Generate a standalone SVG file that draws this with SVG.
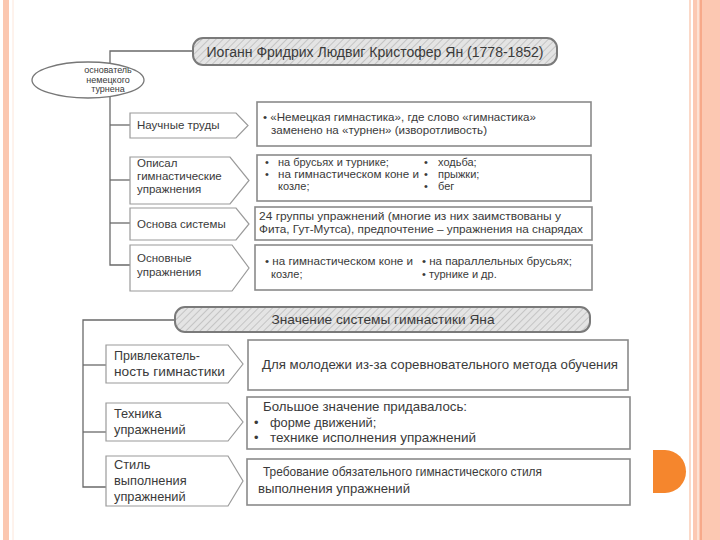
<svg xmlns="http://www.w3.org/2000/svg" width="720" height="540" viewBox="0 0 720 540">
<defs>
<pattern id="hatch" patternUnits="userSpaceOnUse" width="5" height="5" patternTransform="rotate(45)">
<rect width="5" height="5" fill="#e4e4e4"/>
<line x1="0" y1="0" x2="0" y2="5" stroke="#c4c4c4" stroke-width="2"/>
</pattern>
</defs>
<style>
text{font-family:"Liberation Sans","Noto Sans",Arial,sans-serif;fill:#3a3a3a;}
.lbl{font-size:11.5px;}
.cnt{font-size:11px;}
.big{font-size:12.8px;}
.ttl{font-size:14px;}
.box{fill:#ffffff;stroke:#8a8a8a;stroke-width:1.6;}
.arr{fill:#ffffff;stroke:#9a9a9a;stroke-width:1.2;}
.hd{fill:url(#hatch);stroke:#7a7a7a;stroke-width:2;}
.con{fill:none;stroke:#6a6a6a;stroke-width:1.3;}
</style>
<rect width="720" height="540" fill="#ffffff"/>
<!-- page frame -->
<rect x="3" y="0" width="6" height="540" fill="#fbc7b0"/>
<line x1="13" y1="0" x2="13" y2="540" stroke="#fde6da" stroke-width="1"/>
<rect x="689" y="0" width="2" height="540" fill="#fbd9c8"/>
<rect x="693" y="0" width="27" height="540" fill="#fcc8b2"/>
<rect x="697" y="0" width="2" height="540" fill="#fde2d4"/>
<rect x="700" y="0" width="2" height="540" fill="#f7a98a"/>
<path d="M653,450 L665,450 A21,21.5 0 0 1 665,493 L653,493 Z" fill="#f5862d"/>

<g id="connectors">
<path class="con" d="M193,51 H110 V63"/>
<path class="con" d="M110,97 V265 H130"/>
<path class="con" d="M110,125 H130"/>
<path class="con" d="M110,180 H130"/>
<path class="con" d="M110,223 H130"/>
<path class="con" d="M175,320 H83 V487 H106"/>
<path class="con" d="M83,365 H106"/>
<path class="con" d="M83,432 H106"/>
</g>

<g id="title">
<rect class="hd" x="193" y="38" width="364" height="27" rx="10"/>
<text class="ttl" x="375" y="57" text-anchor="middle" textLength="337" lengthAdjust="spacingAndGlyphs">Иоганн Фридрих Людвиг Кристофер Ян (1778-1852)</text>
</g>

<g id="founder">
<ellipse cx="88" cy="80" rx="56" ry="18" fill="#ffffff" stroke="#777" stroke-width="1.3"/>
<text x="108" y="73" font-size="9" text-anchor="middle">основатель</text>
<text x="108" y="82.5" font-size="9" text-anchor="middle">немецкого</text>
<text x="108" y="92" font-size="9" text-anchor="middle">турнена</text>
</g>

<g id="works">
<path class="arr" d="M130,113 H236 L248,125.5 L236,138 H130 Z"/>
<text class="lbl" x="137" y="129">Научные труды</text>
</g>
<g id="works-content">
<rect class="box" x="257" y="102" width="334" height="44"/>
<text class="cnt" x="263" y="121" textLength="273" lengthAdjust="spacingAndGlyphs">• «Немецкая гимнастика», где слово «гимнастика»</text>
<text class="cnt" x="271" y="134" textLength="216" lengthAdjust="spacingAndGlyphs">заменено на «турнен» (изворотливость)</text>
</g>

<g id="described">
<path class="arr" d="M130,157 H230 L249,180.5 L230,204 H130 Z"/>
<text class="lbl" x="137" y="167">Описал</text>
<text class="lbl" x="137" y="180">гимнастические</text>
<text class="lbl" x="137" y="193">упражнения</text>
</g>
<g id="described-content">
<rect class="box" x="257" y="155" width="334" height="46"/>
<text class="cnt" x="265" y="166">•</text>
<text class="cnt" x="278" y="166">на брусьях и турнике;</text>
<text class="cnt" x="265" y="178">•</text>
<text class="cnt" x="278" y="178" textLength="141" lengthAdjust="spacingAndGlyphs">на гимнастическом коне и</text>
<text class="cnt" x="278" y="190">козле;</text>
<text class="cnt" x="424" y="166">•</text>
<text class="cnt" x="438" y="166">ходьба;</text>
<text class="cnt" x="424" y="178">•</text>
<text class="cnt" x="438" y="178">прыжки;</text>
<text class="cnt" x="424" y="190">•</text>
<text class="cnt" x="438" y="190">бег</text>
</g>

<g id="basis">
<path class="arr" d="M130,208 H236 L249,224 L236,240 H130 Z"/>
<text class="lbl" x="137" y="228">Основа системы</text>
</g>
<g id="basis-content">
<rect class="box" x="255" y="207" width="337" height="33"/>
<text class="cnt" x="259" y="220" textLength="302" lengthAdjust="spacingAndGlyphs">24 группы упражнений (многие из них заимствованы у</text>
<text class="cnt" x="259" y="233" textLength="324" lengthAdjust="spacingAndGlyphs">Фита, Гут-Мутса), предпочтение – упражнения на снарядах</text>
</g>

<g id="main-ex">
<path class="arr" d="M130,245 H232 L249,268 L232,291 H130 Z"/>
<text class="lbl" x="137" y="262">Основные</text>
<text class="lbl" x="137" y="276">упражнения</text>
</g>
<g id="main-ex-content">
<rect class="box" x="255" y="245" width="337" height="45"/>
<text class="cnt" x="265" y="265" textLength="148" lengthAdjust="spacingAndGlyphs">• на гимнастическом коне и</text>
<text class="cnt" x="271" y="278">козле;</text>
<text class="cnt" x="422" y="265" textLength="150" lengthAdjust="spacingAndGlyphs">• на параллельных брусьях;</text>
<text class="cnt" x="422" y="278">• турнике и др.</text>
</g>

<g id="meaning">
<rect class="hd" x="175" y="307" width="415" height="25" rx="10"/>
<text x="383" y="324" font-size="13" text-anchor="middle" textLength="223" lengthAdjust="spacingAndGlyphs">Значение системы гимнастики Яна</text>
</g>

<g id="attract">
<path class="arr" d="M106,345 H228 L243,364 L228,383 H106 Z"/>
<text x="114" y="360" font-size="12.5">Привлекатель-</text>
<text x="114" y="376" font-size="12.5" textLength="111" lengthAdjust="spacingAndGlyphs">ность гимнастики</text>
</g>
<g id="attract-content">
<rect class="box" x="248" y="340" width="380" height="50"/>
<text class="big" x="262" y="369" textLength="356" lengthAdjust="spacingAndGlyphs">Для молодежи из-за соревновательного метода обучения</text>
</g>

<g id="technique">
<path class="arr" d="M106,403 H228 L243,422 L228,441 H106 Z"/>
<text class="big" x="114" y="418">Техника</text>
<text class="big" x="114" y="434">упражнений</text>
</g>
<g id="technique-content">
<rect class="box" x="247" y="397" width="383" height="52"/>
<text class="big" x="263" y="411" textLength="204" lengthAdjust="spacingAndGlyphs">Большое значение придавалось:</text>
<text class="big" x="254" y="427">•</text>
<text class="big" x="270" y="427">форме движений;</text>
<text class="big" x="254" y="442">•</text>
<text class="big" x="270" y="442" textLength="206" lengthAdjust="spacingAndGlyphs">технике исполнения упражнений</text>
</g>

<g id="style">
<path class="arr" d="M106,456 H228 L243,481 L228,506 H106 Z"/>
<text class="big" x="114" y="469">Стиль</text>
<text class="big" x="114" y="485">выполнения</text>
<text class="big" x="114" y="501">упражнений</text>
</g>
<g id="style-content">
<rect class="box" x="247" y="459" width="383" height="46"/>
<text class="big" x="263" y="476" textLength="279" lengthAdjust="spacingAndGlyphs">Требование обязательного гимнастического стиля</text>
<text class="big" x="258" y="493" textLength="152" lengthAdjust="spacingAndGlyphs">выполнения упражнений</text>
</g>
</svg>
